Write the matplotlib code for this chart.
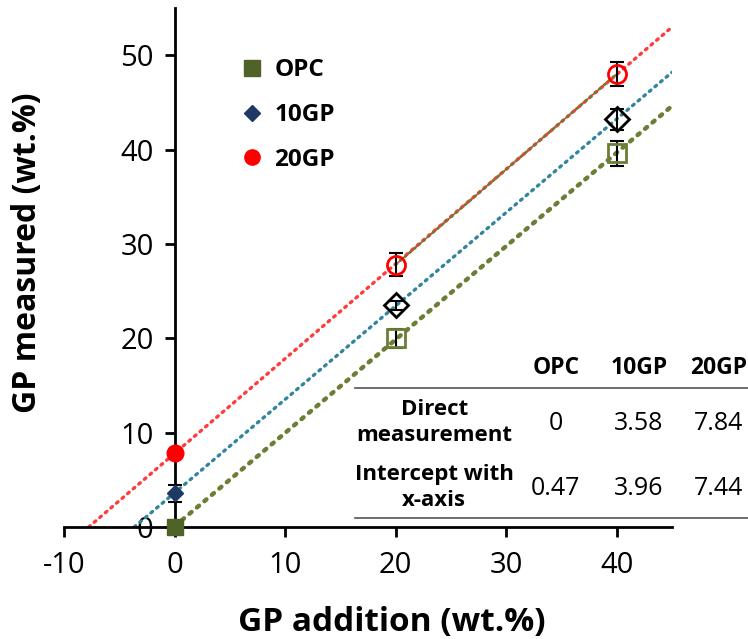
import numpy as np
import matplotlib.pyplot as plt

plt.rcParams['font.family'] = ['Open Sans', 'DejaVu Sans']
plt.rcParams['axes.unicode_minus'] = False

# Data
gp_addition = [0, 20, 40]
opc = [0, 20.0, 39.6]
gp10 = [3.58, 23.5, 43.2]
gp20 = [7.84, 27.8, 48.0]
opc_err = [0, 1.0, 1.3]
gp10_err = [0.9, 0.5, 1.1]
gp20_err = [0, 1.2, 1.3]

table_cols = ["OPC", "10GP", "20GP"]
table_rows = ["Direct\nmeasurement", "Intercept with\nx-axis"]
direct_vals = ["0", "3.58", "7.84"]
intercept_vals = ["0.47", "3.96", "7.44"]

c_opc = "#4F6228"
c_opc_line = "#6A7F35"
c_10 = "#1F3864"
c_10_line = "#31859C"
c_20 = "#FF0000"
c_20_line = "#FF3B3B"

fig = plt.figure(figsize=(7.48, 6.39), dpi=100)
ax = fig.add_axes([64 / 748, 1 - 527 / 639, 608 / 748, 519 / 639])
ax.set_xlim(-10, 45)
ax.set_ylim(0, 55)

# Trend lines (linear fits), drawn from y=0 to x=45
for y, col, lw in [(opc, c_opc_line, 3.2), (gp10, c_10_line, 2.4), (gp20, c_20_line, 2.4)]:
    k, b = np.polyfit(gp_addition, y, 1)
    x0 = max(-b / k, 0) if col == c_opc_line else -b / k
    xs = np.array([x0, 45])
    ax.plot(xs, k * xs + b, linestyle=(0, (0.6, 1.6)), color=col, lw=lw,
            dash_capstyle="round", zorder=2)

# extra segment between 20GP points
ax.plot(gp_addition[1:], gp20[1:], color=c_20_line, lw=1.2, zorder=2)
ax.plot(gp_addition[1:], gp20[1:], linestyle=(0, (0.6, 1.6)), color=c_opc_line,
        lw=2.0, dash_capstyle="round", zorder=2)

# Error bars
for y, err in [(opc, opc_err), (gp10, gp10_err), (gp20, gp20_err)]:
    ax.errorbar(gp_addition, y, yerr=err, fmt="none", ecolor="black",
                elinewidth=1.5, capsize=5, capthick=1.5, zorder=3)

# Filled markers at 0
ax.plot(gp_addition[0], opc[0], "s", color=c_opc, ms=12, zorder=5, clip_on=False)
ax.plot(gp_addition[0], gp10[0], "D", color=c_10, ms=8, zorder=5)
ax.plot(gp_addition[0], gp20[0], "o", color=c_20, ms=12, zorder=5)

# Hollow markers
ax.plot(gp_addition[1:], opc[1:], "s", mfc="none", mec=c_opc_line, mew=2, ms=13, zorder=4)
ax.plot(gp_addition[1:], gp10[1:], "D", mfc="none", mec="black", mew=2, ms=12, zorder=4)
ax.plot(gp_addition[1:], gp20[1:], "o", mfc="none", mec=c_20, mew=2, ms=13, zorder=4)

# Legend
ax.plot([], [], "s", color=c_opc, ms=11, label="OPC")
ax.plot([], [], "D", color=c_10, ms=8, label="10GP")
ax.plot([], [], "o", color=c_20, ms=11, label="20GP")
leg = ax.legend(loc="upper left", bbox_to_anchor=(0.25, 0.945), frameon=False,
                prop={"size": 17.5, "weight": "bold"}, handletextpad=0.3,
                labelspacing=0.85, handlelength=1.2)

# Spines
ax.spines["left"].set_position(("data", 0))
ax.spines["top"].set_visible(False)
ax.spines["right"].set_visible(False)
ax.spines["left"].set_linewidth(2)
ax.spines["bottom"].set_linewidth(2)
ax.set_xticks([-10, 0, 10, 20, 30, 40])
ax.set_yticks([0, 10, 20, 30, 40, 50])
ax.tick_params(direction="out", length=7, width=2, labelsize=21, color="black")
ax.tick_params(axis="x", pad=10)
ax.tick_params(axis="y", pad=8)
for lab in ax.get_yticklabels():
    lab.set_zorder(1)

fig.text(392 / 748, 1 - 622 / 639, "GP addition (wt.%)", ha="center", va="center",
         fontsize=24, fontweight="bold")
fig.text(28 / 748, 1 - 253 / 639, "GP measured (wt.%)", ha="center", va="center",
         rotation=90, fontsize=23, fontweight="bold")

# Inset table
col_x = [34.5, 42.0, 49.2]
for cx, name in zip(col_x, table_cols):
    ax.text(cx, 16.9, name, ha="center", va="center", fontsize=16.5,
            fontweight="bold", clip_on=False)
for yl in [14.75, 0.95]:
    ax.plot([16.3, 52], [yl, yl], color="#555555", lw=1.2, clip_on=False)
row_y = [11.1, 4.2]
for ry, lab, vals in zip(row_y, table_rows, [direct_vals, intercept_vals]):
    ax.text(23.5, ry, lab, ha="center", va="center", fontsize=16,
            fontweight="bold", linespacing=1.3, clip_on=False)
    for cx, v in zip(col_x, vals):
        ax.text(cx, ry - 0.1, v, ha="center", va="center", fontsize=18,
                clip_on=False)

fig.savefig("out.png", dpi=100)
